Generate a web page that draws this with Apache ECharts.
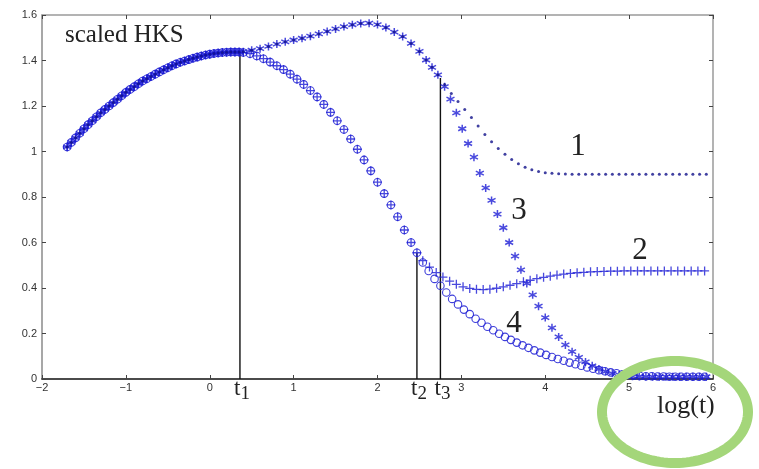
<!DOCTYPE html>
<html><head><meta charset="utf-8">
<script src="https://cdn.jsdelivr.net/npm/echarts@6/dist/echarts.min.js"></script>
<style>html,body{margin:0;padding:0;background:#fff}#c{width:759px;height:469px}</style>
</head><body><div id="c"></div>
<script>
// ---- shared rising part (all four curves) ----
const xShared = [-1.70,-1.65,-1.60,-1.55,-1.50,-1.45,-1.40,-1.35,-1.30,-1.25,-1.20,-1.15,-1.10,-1.05,-1.00,-0.95,-0.90,-0.85,-0.80,-0.75,-0.70,-0.65,-0.60,-0.55,-0.50,-0.45,-0.40,-0.35,-0.30,-0.25,-0.20,-0.15,-0.10,-0.05,0.00,0.05,0.10,0.15,0.20,0.25,0.30,0.35];
const yShared = [1.020,1.040,1.060,1.080,1.100,1.118,1.135,1.153,1.170,1.185,1.200,1.215,1.230,1.245,1.260,1.273,1.285,1.298,1.310,1.320,1.330,1.340,1.350,1.359,1.368,1.377,1.385,1.392,1.398,1.404,1.410,1.415,1.420,1.424,1.428,1.431,1.433,1.435,1.436,1.437,1.437,1.437];
// ---- upper branch shared by curves 1 and 3 (t1 .. t3) ----
const xUpper = [0.40,0.50,0.60,0.70,0.80,0.90,1.00,1.10,1.20,1.30,1.40,1.50,1.60,1.70,1.80,1.90,2.00,2.10,2.20,2.30,2.40,2.50,2.58,2.65,2.72];
const yUpper = [1.439,1.445,1.452,1.462,1.472,1.482,1.490,1.498,1.507,1.517,1.528,1.539,1.549,1.557,1.563,1.564,1.558,1.545,1.525,1.505,1.475,1.440,1.402,1.370,1.337];
// ---- lower branch shared by curves 2 and 4 (t1 .. t2) ----
const xLower = [0.40,0.48,0.56,0.64,0.72,0.80,0.88,0.96,1.04,1.12,1.20,1.28,1.36,1.44,1.52,1.60,1.68,1.76,1.84,1.92,2.00,2.08,2.16,2.24,2.32,2.40,2.47];
const yLower = [1.435,1.430,1.420,1.408,1.393,1.377,1.360,1.340,1.318,1.295,1.268,1.240,1.207,1.172,1.135,1.097,1.055,1.010,0.963,0.915,0.865,0.815,0.765,0.713,0.655,0.600,0.555];
// ---- curve tails ----
const x1Tail = [2.80,2.88,2.96,3.04,3.12,3.20,3.28,3.36,3.44,3.52,3.60,3.68,3.76,3.84,3.92,4.00,4.08,4.16,4.24,4.32,4.40,4.48,4.56,4.64,4.72,4.80,4.88,4.96,5.04,5.12,5.20,5.28,5.36,5.44,5.52,5.60,5.68,5.76,5.84,5.92];
const y1Tail = [1.295,1.255,1.220,1.185,1.150,1.112,1.075,1.043,1.013,0.988,0.965,0.946,0.931,0.920,0.912,0.907,0.904,0.902,0.901,0.900,0.900,0.900,0.900,0.900,0.900,0.900,0.900,0.900,0.900,0.900,0.900,0.900,0.900,0.900,0.900,0.900,0.900,0.900,0.900,0.900];
const x2Tail = [2.54,2.62,2.70,2.78,2.86,2.94,3.02,3.10,3.18,3.26,3.34,3.42,3.50,3.58,3.66,3.74,3.82,3.90,3.98,4.06,4.14,4.22,4.30,4.38,4.46,4.54,4.62,4.70,4.78,4.86,4.94,5.02,5.10,5.18,5.26,5.34,5.42,5.50,5.58,5.66,5.74,5.82,5.90];
const y2Tail = [0.520,0.492,0.468,0.448,0.430,0.416,0.405,0.398,0.394,0.393,0.395,0.399,0.405,0.412,0.419,0.427,0.434,0.441,0.447,0.452,0.457,0.461,0.464,0.467,0.469,0.471,0.472,0.473,0.474,0.474,0.475,0.475,0.475,0.475,0.475,0.475,0.475,0.475,0.475,0.475,0.475,0.475,0.475];
const x3Tail = [2.80,2.87,2.94,3.01,3.08,3.15,3.22,3.29,3.36,3.43,3.50,3.57,3.64,3.71,3.78,3.85,3.92,4.00,4.08,4.16,4.24,4.32,4.40,4.48,4.56,4.64,4.72,4.80,4.88,4.96,5.04,5.12,5.20,5.28,5.36,5.44,5.52,5.60,5.68,5.76,5.84,5.92];
const y3Tail = [1.285,1.230,1.170,1.100,1.035,0.975,0.905,0.840,0.785,0.725,0.665,0.600,0.540,0.480,0.420,0.370,0.320,0.270,0.225,0.185,0.150,0.120,0.095,0.075,0.058,0.044,0.033,0.025,0.019,0.015,0.012,0.011,0.010,0.010,0.010,0.010,0.010,0.010,0.010,0.010,0.010,0.010];
const x4Tail = [2.54,2.61,2.68,2.75,2.82,2.89,2.96,3.03,3.10,3.17,3.24,3.31,3.38,3.45,3.52,3.59,3.66,3.73,3.80,3.87,3.94,4.01,4.08,4.15,4.22,4.29,4.36,4.43,4.50,4.57,4.64,4.71,4.78,4.85,4.92,4.99,5.06,5.13,5.20,5.27,5.34,5.41,5.48,5.55,5.62,5.69,5.76,5.83,5.90];
const y4Tail = [0.512,0.475,0.440,0.410,0.380,0.352,0.328,0.305,0.285,0.265,0.247,0.230,0.214,0.199,0.185,0.172,0.160,0.148,0.137,0.126,0.116,0.106,0.097,0.088,0.080,0.072,0.065,0.058,0.051,0.045,0.039,0.034,0.029,0.025,0.021,0.018,0.015,0.013,0.012,0.012,0.011,0.011,0.010,0.010,0.010,0.010,0.010,0.010,0.010];
// ---- marker lines t1, t2, t3 ----
const tNames = ['1','2','3'];
const tPos = [0.36, 2.47, 2.75];
const tTop = [1.437, 0.555, 1.323];
// ---- axis ticks ----
const xTicks = [-2,-1,0,1,2,3,4,5,6];
const yTicks = [0,0.2,0.4,0.6,0.8,1,1.2,1.4,1.6];

function pairs(xs, ys){ return xs.map((x,i)=>[x, ys[i]]); }
const sharedPts = pairs(xShared, yShared);
const upperPts = pairs(xUpper, yUpper);
const lowerPts = pairs(xLower, yLower);
const curve1 = sharedPts.concat(upperPts, pairs(x1Tail, y1Tail));
const curve3 = sharedPts.concat(upperPts, pairs(x3Tail, y3Tail));
const curve2 = sharedPts.concat(lowerPts, pairs(x2Tail, y2Tail));
const curve4 = sharedPts.concat(lowerPts, pairs(x4Tail, y4Tail));

const BLUE = '#1c1cd4';
const PLUS = 'path://M5,0L5,10M0,5L10,5';
const STAR = 'path://M5,0L5,10M0.7,2.5L9.3,7.5M9.3,2.5L0.7,7.5';

const chart = echarts.init(document.getElementById('c'), null, {renderer:'canvas'});
const sans = '"Liberation Sans", Arial, sans-serif';
const serif = '"Liberation Serif", "Times New Roman", serif';

const axisCommon = {type:'value', splitLine:{show:false}};
const tSeries = tPos.map((x,i)=>({
  type:'line', data:[[x,0],[x,tTop[i]]], symbol:'none', silent:true, z:1,
  lineStyle:{color:'#111', width:1.4}
}));

chart.setOption({
  animation:false,
  backgroundColor:'#fff',
  grid:{left:42, right:46, top:15, bottom:90},
  xAxis:[
    Object.assign({}, axisCommon, {min:xTicks[0], max:xTicks[xTicks.length-1], interval:1, position:'bottom',
      axisLine:{show:true, onZero:false, lineStyle:{color:'#111', width:1.6}},
      axisTick:{show:true, inside:true, length:4, lineStyle:{color:'#444'}},
      axisLabel:{color:'#333', fontSize:11, fontFamily:sans, margin:3, formatter:v=>String(v).replace('-','\u2212')}}),
    Object.assign({}, axisCommon, {min:xTicks[0], max:xTicks[xTicks.length-1], interval:1, position:'top',
      axisLine:{show:true, onZero:false, lineStyle:{color:'#9a9a9a', width:1.5}},
      axisTick:{show:true, inside:true, length:4, lineStyle:{color:'#444'}},
      axisLabel:{show:false}})
  ],
  yAxis:[
    Object.assign({}, axisCommon, {min:yTicks[0], max:yTicks[yTicks.length-1], interval:0.2, position:'left',
      axisLine:{show:true, onZero:false, lineStyle:{color:'#8a8a8a', width:1.5}},
      axisTick:{show:true, inside:true, length:4, lineStyle:{color:'#444'}},
      axisLabel:{color:'#333', fontSize:11, fontFamily:sans, margin:5, formatter:v=>String(+v.toFixed(1))}}),
    Object.assign({}, axisCommon, {min:yTicks[0], max:yTicks[yTicks.length-1], interval:0.2, position:'right',
      axisLine:{show:true, onZero:false, lineStyle:{color:'#9a9a9a', width:1.5}},
      axisTick:{show:true, inside:true, length:4, lineStyle:{color:'#444'}},
      axisLabel:{show:false}})
  ],
  series:[
    ...tSeries,
    {name:'4', type:'scatter', data:curve4, symbol:'circle', symbolSize:7.5, z:3,
      itemStyle:{color:'rgba(0,0,0,0)', borderColor:BLUE, borderWidth:1.1, opacity:0.85}},
    {name:'2', type:'scatter', data:curve2, symbol:PLUS, symbolSize:9, z:4,
      itemStyle:{color:'rgba(0,0,0,0)', borderColor:BLUE, borderWidth:1.3}},
    {name:'3', type:'scatter', data:curve3, symbol:STAR, symbolSize:8, z:5,
      itemStyle:{color:'rgba(0,0,0,0)', borderColor:BLUE, borderWidth:1.5}},
    {name:'1', type:'scatter', data:curve1, symbol:'circle', symbolSize:3, z:6,
      itemStyle:{color:'#10108a'}}
  ]
});

// annotation graphics
const g = [];
g.push({type:'text', x:65, y:35, z:50, style:{text:'scaled HKS', font:'25px '+serif, fill:'#222', verticalAlign:'middle'}});
const curveLabels = [['1',578,147],['3',519,211],['2',640,251],['4',514,324]];
curveLabels.forEach(c=>g.push({type:'text', x:c[1], y:c[2], z:50, style:{text:c[0], font:'31px '+serif, fill:'#222', align:'center', verticalAlign:'middle'}}));
tPos.forEach((x,i)=>{
  const p = chart.convertToPixel({gridIndex:0}, [x,0]);
  g.push({type:'text', x:p[0]+0.5, y:400, z:50, style:{text:'t', font:'23px '+serif, fill:'#222', align:'right', verticalAlign:'bottom'}});
  g.push({type:'text', x:p[0]+0.5, y:404, z:50, style:{text:tNames[i], font:'19px '+serif, fill:'#222', align:'left', verticalAlign:'bottom'}});
});
g.push({type:'text', x:657, y:406, z:50, style:{text:'log(t)', font:'26px '+serif, fill:'#222', verticalAlign:'middle'}});
// green ellipse annotation
const ell = [];
for (let k=0;k<120;k++){ const a=k/120*2*Math.PI; ell.push([675+73*Math.cos(a), 412+51*Math.sin(a)]); }
g.push({type:'polygon', z:60, shape:{points:ell}, style:{fill:'none', stroke:'#a4d67a', lineWidth:10}});
chart.setOption({graphic:g});
</script>
</body></html>
